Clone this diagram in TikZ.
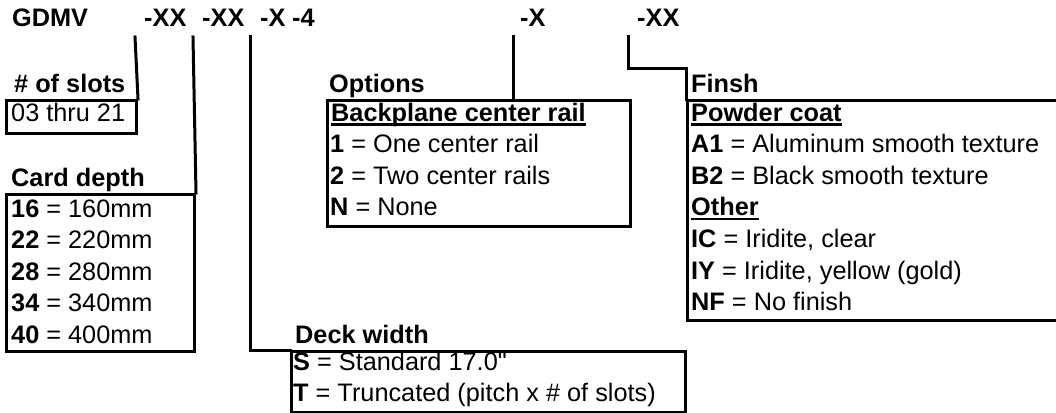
\documentclass[tikz,border=0pt]{standalone}
\usepackage{fontspec}
\setmainfont{Liberation Sans}
\newcommand\ulx[1]{\setbox0\hbox{#1}\rlap{\rule[-4.5pt]{\wd0}{2.2pt}}\box0}
\newcommand\sq{{\addfontfeatures{Ligatures=TeXOff}"}}
\tikzset{
  lbl/.style={anchor=base west, inner sep=0pt, font=\fontsize{25.3}{30}\selectfont},
  code/.style={anchor=base west, inner sep=0pt, font=\fontsize{25.3}{30}\selectfont\bfseries},
  boxx/.style={draw, line width=3pt, anchor=north west, inner sep=0pt},
  conn/.style={draw, line width=3pt, line cap=rect, line join=miter}
}
\begin{document}
\begin{tikzpicture}[x=1pt,y=1pt]
\path[use as bounding box] (0,0) rectangle (1056,-412);
% header codes
\node[code] (gdmv) at (12,-27) {GDMV};
\node[code] (c1) at (144,-27) {-XX};
\node[code] (c2) at (202,-27) {-XX};
\node[code] (c3) at (260,-27) {-X};
\node[code] (c4) at (292,-27) {-4};
\node[code] (c5) at (520,-27) {-X};
\node[code] (c6) at (637,-27) {-XX};
% connector tops
\coordinate (t1) at (135,-37);
\coordinate (t2) at (193,-37);
\coordinate (t3) at (250,-37);
\coordinate (t5) at (513,-37);
\coordinate (t6) at (628,-37);
% boxes
\node[boxx, minimum width=130pt, minimum height=33pt] (slotsbox) at (5,-99) {};
\node[boxx, minimum width=188pt, minimum height=157pt] (cardbox) at (5,-193) {};
\node[boxx, minimum width=303pt, minimum height=126pt] (optbox) at (326,-99) {};
\node[boxx, minimum width=380pt, minimum height=220pt] (finbox) at (686,-99) {};
\node[boxx, minimum width=394pt, minimum height=61pt] (deckbox) at (290,-350) {};
% connectors
\draw[conn] (t1) -- (slotsbox.north east);
\draw[conn] (t2) -- (cardbox.north east);
\draw[conn] (t3) |- (deckbox.north west);
\draw[conn] (t5) -- (t5 |- optbox.north);
\coordinate (f6) at (finbox.north west |- 0,-68);
\draw[conn] (t6) |- (f6) -- (finbox.north west);
% slots
\node[code] (slotsttl) at (14,-92) {\# of slots};
\node[lbl] (slots1) at (11,-121.5) {03 thru 21};
% card depth
\node[code] (cardttl) at (11,-186) {Card depth};
\node[lbl] (card1) at (11,-217.5) {\textbf{16} = 160mm};
\node[lbl] (card2) at (11,-248.9) {\textbf{22} = 220mm};
\node[lbl] (card3) at (11,-280.3) {\textbf{28} = 280mm};
\node[lbl] (card4) at (11,-311.7) {\textbf{34} = 340mm};
\node[lbl] (card5) at (11,-343.1) {\textbf{40} = 400mm};
% options
\node[code] (optttl) at (329,-92) {Options};
\node[code] (opt0) at (331,-121) {\ulx{Backplane center rail}};
\node[lbl] (opt1) at (330,-152.6) {\textbf{1} = One center rail};
\node[lbl] (opt2) at (330,-184.2) {\textbf{2} = Two center rails};
\node[lbl] (opt3) at (330,-215.8) {\textbf{N} = None};
% finish
\node[code] (finttl) at (691,-92) {Finsh};
\node[code] (fin0) at (691,-121) {\ulx{Powder coat}};
\node[lbl] (fin1) at (691,-152.6) {\textbf{A1} = Aluminum smooth texture};
\node[lbl] (fin2) at (691,-184.2) {\textbf{B2} = Black smooth texture};
\node[code] (fin3) at (691,-215.8) {\ulx{Other}};
\node[lbl] (fin4) at (691,-247.4) {\textbf{IC} = Iridite, clear};
\node[lbl] (fin5) at (691,-279) {\textbf{IY} = Iridite, yellow (gold)};
\node[lbl] (fin6) at (691,-310.6) {\textbf{NF} = No finish};
% deck width
\node[code] (deckttl) at (295,-343) {Deck width};
\node[lbl] (deck1) at (293,-370) {\textbf{S} = Standard 17.0\sq};
\node[lbl] (deck2) at (293,-401.7) {\textbf{T} = Truncated (pitch x \# of slots)};
\end{tikzpicture}
\end{document}
